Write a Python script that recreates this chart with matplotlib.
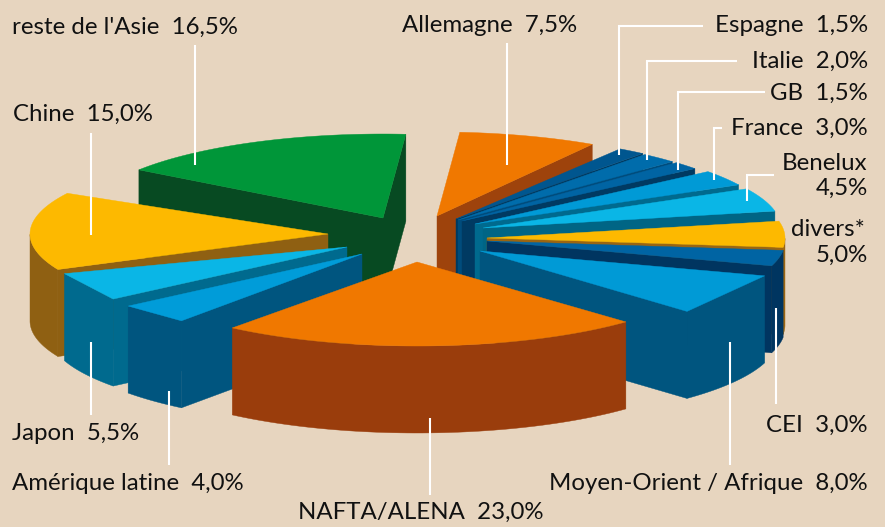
import matplotlib

matplotlib.use("Agg")
import matplotlib.pyplot as plt
import numpy as np
from matplotlib.patches import Polygon

# slices clockwise, starting from the front one
NAMES = ["NAFTA/ALENA", "Amérique latine", "Japon", "Chine", "reste de l'Asie",
         "Allemagne", "Espagne", "Italie", "GB", "France", "Benelux", "divers*",
         "CEI", "Moyen-Orient / Afrique"]
VALUES = [23.0, 4.0, 5.5, 15.0, 16.5, 7.5, 1.5, 2.0, 1.5, 3.0, 4.5, 5.0, 3.0, 8.0]

TOP = ["#F07800", "#009CD9", "#0AB6E6", "#FDB900", "#009639", "#F07800", "#00568F",
       "#006CAB", "#0064A3", "#009AD6", "#0AB6E6", "#FDB900", "#0064A3", "#009AD6"]
WALL = ["#9A3D0C", "#00557F", "#006A8E", "#8F6012", "#074A22", "#9E430C", "#003A60",
        "#004C7C", "#003A62", "#006A8E", "#006585", "#9A6512", "#003560", "#00557F"]

# apex of each exploded slice, pixels
APEX_X = [417, 362, 347, 328, 383, 437, 456, 458, 462, 475, 483, 487, 487, 480]
APEX_Y = [262, 254, 247, 234, 218, 216, 219, 220, 221, 224, 228, 238, 241, 251]
TWIST = [-0.5, -1.5, -1.5, -8, -2, -2, 0, 0, 0, 0, 0, 0, 0, 0]
DRAW_ORDER = [4, 5, 6, 7, 8, 9, 10, 11, 12, 13, 3, 2, 1, 0]
# these tops have a straight outer edge in the original
CHORD = {"Amérique latine", "Japon", "Moyen-Orient / Afrique"}

RX, RY, DEPTH = 298, 84, 87
START = -44.0

BG = "#E7D5BF"
FONT = "Lato"
FS = 17.3

# text anchor: x, y, ha, then leader polyline
LABELS = {
    "NAFTA/ALENA": (298, 512, "left", [(430, 418), (430, 495)]),
    "Amérique latine": (12, 484, "left", [(169, 391), (169, 465)]),
    "Japon": (12, 434, "left", [(91, 342), (91, 415)]),
    "Chine": (13, 114, "left", [(91, 133), (91, 235)]),
    "reste de l'Asie": (12, 27, "left", [(195, 45), (195, 165)]),
    "Allemagne": (402, 26, "left", [(507, 43), (507, 165)]),
    "Espagne": (868, 26, "right", [(703, 26), (619, 26), (619, 155)]),
    "Italie": (868, 61, "right", [(737, 61), (647, 61), (647, 160)]),
    "GB": (868, 93, "right", [(765, 92), (678, 92), (678, 170)]),
    "France": (868, 128, "right", [(722, 128), (714, 128), (714, 180)]),
    "CEI": (868, 425, "right", [(776, 308), (776, 404)]),
    "Moyen-Orient / Afrique": (868, 484, "right", [(730, 342), (730, 465)]),
}


def rim(apex, theta):
    t = np.radians(theta)
    return np.column_stack([apex[0] - RX * np.sin(t), apex[1] + RY * np.cos(t)])


def drop(points):
    return points + np.array([0, DEPTH])


def add_poly(ax, points, color):
    ax.add_patch(Polygon(points, closed=True, facecolor=color, edgecolor=color, lw=0.3))


def draw_slice(ax, apex, a, b, top, wall, chord):
    angles = np.linspace(a, b, 60)
    arc = rim(apex, angles)
    apex_pt = np.array([apex], dtype=float)
    # cut faces, only those turned to the viewer
    if np.sin(np.radians(a)) > 0:
        face = np.vstack([apex_pt, arc[:1]])
        add_poly(ax, np.vstack([face, drop(face)[::-1]]), wall)
    if np.sin(np.radians(b)) < 0:
        face = np.vstack([apex_pt, arc[-1:]])
        add_poly(ax, np.vstack([face, drop(face)[::-1]]), wall)
    # outer wall, front half only
    front = np.cos(np.radians(angles)) > 0
    if front.any():
        strip = arc[front]
        upper = strip[[0, -1]] if chord else strip
        add_poly(ax, np.vstack([upper, drop(strip)[::-1]]), wall)
    add_poly(ax, np.vstack([apex_pt, arc[[0, -1]] if chord else arc]), top)


def label_text(name, value):
    return f"{name}  {value:.1f}%".replace(".", ",")


fig = plt.figure(figsize=(8.85, 5.27), dpi=100, facecolor=BG)
ax = fig.add_axes([0, 0, 1, 1])
ax.set_xlim(0, 885)
ax.set_ylim(527, 0)
ax.axis("off")

spans = np.array(VALUES) / sum(VALUES) * 360
edges = START + np.concatenate([[0], np.cumsum(spans)])

for i in DRAW_ORDER:
    draw_slice(ax, (APEX_X[i], APEX_Y[i]), edges[i] + TWIST[i], edges[i + 1] + TWIST[i], TOP[i], WALL[i],
               NAMES[i] in CHORD)

for name, value in zip(NAMES, VALUES):
    if name in LABELS:
        x, y, ha, line = LABELS[name]
        ax.text(x, y, label_text(name, value), family=FONT, fontsize=FS, ha=ha, va="center", color="#111111")
        xs, ys = zip(*line)
        ax.plot(xs, ys, color="white", lw=1.5, solid_joinstyle="miter", solid_capstyle="butt")

# two-line labels
ben = VALUES[NAMES.index("Benelux")]
ax.text(782, 164, "Benelux", family=FONT, fontsize=FS, va="center", color="#111111")
ax.text(868, 188, f"{ben:.1f}%".replace(".", ","), family=FONT, fontsize=FS, ha="right", va="center", color="#111111")
ax.plot([774, 747, 747], [175, 175, 201], color="white", lw=1.5, solid_joinstyle="miter", solid_capstyle="butt")

div = VALUES[NAMES.index("divers*")]
ax.text(791, 229, "divers*", family=FONT, fontsize=FS, va="center", color="#111111")
ax.text(868, 255, f"{div:.1f}%".replace(".", ","), family=FONT, fontsize=FS, ha="right", va="center", color="#111111")

fig.savefig("out.png", dpi=100, facecolor=BG)
